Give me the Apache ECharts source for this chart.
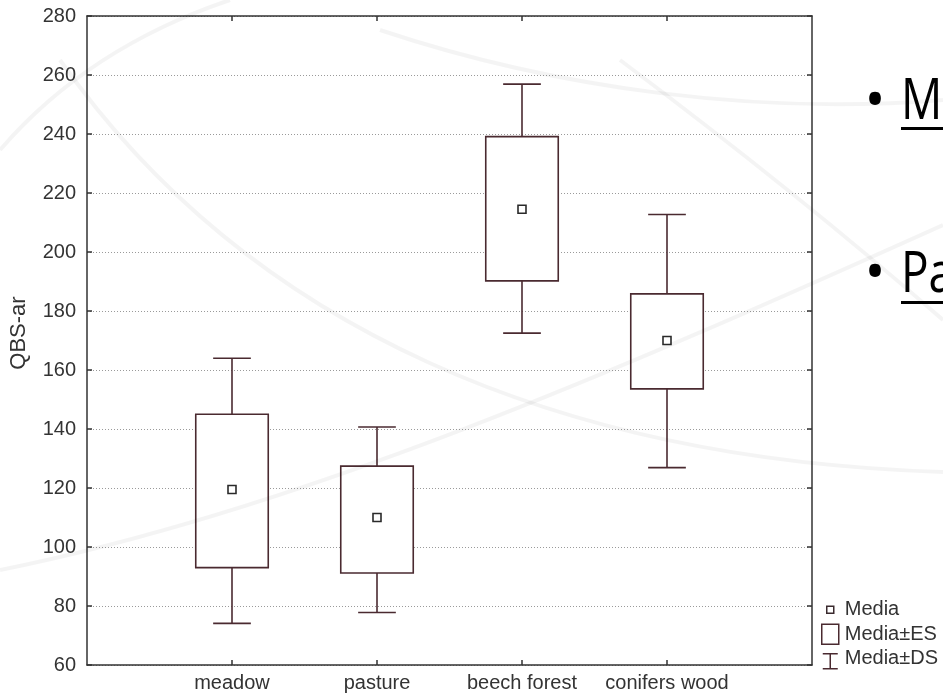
<!DOCTYPE html>
<html>
<head>
<meta charset="utf-8">
<script src="https://cdn.jsdelivr.net/npm/echarts@6/dist/echarts.min.js"></script>
<style>
html,body{margin:0;padding:0;background:#fff;}
#chart{width:943px;height:698px;}
</style>
</head>
<body>
<div id="chart"></div>
<script>
// ---- data ----
const categories = ['meadow', 'pasture', 'beech forest', 'conifers wood'];
const mediaValues = [119.5, 110, 214.5, 170];           // Media
const esLow  = [93, 91.2, 190.2, 153.6];               // Media - ES
const esHigh = [145, 127.4, 239.1, 185.8];             // Media + ES
const dsLow  = [74.1, 77.8, 172.5, 126.9];             // Media - DS
const dsHigh = [164, 140.7, 256.9, 212.7];             // Media + DS
const yTicks = [60, 80, 100, 120, 140, 160, 180, 200, 220, 240, 260, 280];
const yAxisName = 'QBS-ar';
const legendNames = ['Media', 'Media±ES', 'Media±DS'];
const sideTexts = ['M', 'Pa'];

const LINE = '#4a2a30';
const AXIS = '#333333';
const TXT = '#333333';
const FONT = '"Liberation Sans", Arial, sans-serif';

const xCats = [''].concat(categories, ['']);

const chart = echarts.init(document.getElementById('chart'), null, {renderer: 'canvas'});

function renderWhisker(params, api) {
  const x = api.value(0);
  const lo = api.coord([x, api.value(1)]);
  const hi = api.coord([x, api.value(2)]);
  const band = api.size([1, 0])[0];
  const half = band * 0.13;
  const style = {stroke: LINE, lineWidth: 1.6, fill: null};
  return {
    type: 'group',
    children: [
      {type: 'line', shape: {x1: lo[0], y1: lo[1], x2: hi[0], y2: hi[1]}, style: style},
      {type: 'line', shape: {x1: lo[0] - half, y1: lo[1], x2: lo[0] + half, y2: lo[1]}, style: style},
      {type: 'line', shape: {x1: hi[0] - half, y1: hi[1], x2: hi[0] + half, y2: hi[1]}, style: style}
    ]
  };
}

function renderBox(params, api) {
  const x = api.value(0);
  const lo = api.coord([x, api.value(1)]);
  const hi = api.coord([x, api.value(2)]);
  const band = api.size([1, 0])[0];
  const w = band * 0.5;
  return {
    type: 'rect',
    shape: {x: lo[0] - w / 2, y: hi[1], width: w, height: lo[1] - hi[1]},
    style: {fill: '#ffffff', stroke: LINE, lineWidth: 1.6}
  };
}

const curveStyle = {stroke: 'rgba(0,0,0,0.045)', lineWidth: 4, fill: null};

const option = {
  animation: false,
  backgroundColor: '#ffffff',
  grid: {left: 87, right: 131, top: 16, bottom: 33},
  xAxis: [
    {
      type: 'category', data: xCats, boundaryGap: false,
      axisLine: {lineStyle: {color: AXIS, width: 1.5}},
      axisTick: {inside: true, length: 5, lineStyle: {color: AXIS, width: 1.5},
                 interval: function (i) { return i > 0 && i < xCats.length - 1; }},
      axisLabel: {interval: 0, margin: 8, color: TXT, fontSize: 20, fontFamily: FONT},
      splitLine: {show: false}
    },
    {
      type: 'category', data: xCats, boundaryGap: false, position: 'top',
      axisLine: {lineStyle: {color: AXIS, width: 1.5}},
      axisTick: {inside: true, length: 5, lineStyle: {color: AXIS, width: 1.5},
                 interval: function (i) { return i > 0 && i < xCats.length - 1; }},
      axisLabel: {show: false},
      splitLine: {show: false}
    }
  ],
  yAxis: [
    {
      type: 'value', min: yTicks[0], max: yTicks[yTicks.length - 1], interval: yTicks[1] - yTicks[0],
      name: yAxisName, nameLocation: 'middle', nameGap: 57, nameRotate: 90,
      nameTextStyle: {color: TXT, fontSize: 22, fontFamily: FONT, padding: [0, 0, 0, 15]},
      axisLine: {show: true, lineStyle: {color: AXIS, width: 1.5}},
      axisTick: {show: true, inside: true, length: 5, lineStyle: {color: AXIS, width: 1.5}},
      axisLabel: {margin: 11, color: TXT, fontSize: 20, fontFamily: FONT},
      splitLine: {show: true, lineStyle: {color: '#9a9a9a', width: 1, type: [1, 2]}}
    },
    {
      type: 'value', min: yTicks[0], max: yTicks[yTicks.length - 1], interval: yTicks[1] - yTicks[0],
      position: 'right',
      axisLine: {show: true, lineStyle: {color: AXIS, width: 1.5}},
      axisTick: {show: true, inside: true, length: 5, lineStyle: {color: AXIS, width: 1.5}},
      axisLabel: {show: false},
      splitLine: {show: false}
    }
  ],
  legend: {
    orient: 'vertical', left: 815, top: 593,
    itemWidth: 19, itemHeight: 22, itemGap: 1,
    selectedMode: false,
    textStyle: {color: TXT, fontSize: 20, fontFamily: FONT, padding: [0, 0, 0, 0]},
    data: [
      {name: legendNames[0], icon: 'path://M0 0 M19 22 M6 7.5 L13 7.5 L13 14.5 L6 14.5 Z',
       itemStyle: {color: '#ffffff', borderColor: '#3a2a2e', borderWidth: 1.5}},
      {name: legendNames[1], icon: 'path://M0 0 M19 22 M1 1 L18 1 L18 21 L1 21 Z',
       itemStyle: {color: 'transparent', borderColor: LINE, borderWidth: 1.5}},
      {name: legendNames[2], icon: 'path://M0 0 M19 22 M2 6 L17 6 M9.5 6 L9.5 21 M2 21 L17 21',
       itemStyle: {color: 'transparent', borderColor: LINE, borderWidth: 1.5}}
    ]
  },
  graphic: [
    // faint slide background curves
    {type: 'bezierCurve', silent: true, z: 100, shape: {x1: 0, y1: 570, cpx1: 300, cpy1: 510, cpx2: 620, cpy2: 370, x2: 943, y2: 225}, style: curveStyle},
    {type: 'bezierCurve', silent: true, z: 100, shape: {x1: 60, y1: 60, cpx1: 250, cpy1: 330, cpx2: 560, cpy2: 460, x2: 943, y2: 472}, style: curveStyle},
    {type: 'bezierCurve', silent: true, z: 100, shape: {x1: 620, y1: 60, cpx1: 740, cpy1: 150, cpx2: 840, cpy2: 230, x2: 943, y2: 320}, style: curveStyle},
    {type: 'bezierCurve', silent: true, z: 100, shape: {x1: 380, y1: 30, cpx1: 560, cpy1: 90, cpx2: 760, cpy2: 115, x2: 943, y2: 100}, style: curveStyle},
    {type: 'bezierCurve', silent: true, z: 100, shape: {x1: 0, y1: 150, cpx1: 60, cpy1: 80, cpx2: 140, cpy2: 30, x2: 230, y2: 0}, style: curveStyle},
    // side bullet texts
    {type: 'text', z: 110, x: 875, y: 103, style: {text: '•', font: '56px "Open Sans"', fill: '#000', align: 'center', verticalAlign: 'middle'}},
    {type: 'text', z: 110, x: 901, y: 103, scaleX: 0.82, style: {text: sideTexts[0], font: '56px "Open Sans"', fill: '#000', align: 'left', verticalAlign: 'middle'}},
    {type: 'rect', z: 110, shape: {x: 901, y: 127, width: 42, height: 3}, style: {fill: '#000'}},
    {type: 'text', z: 110, x: 875, y: 275, style: {text: '•', font: '56px "Open Sans"', fill: '#000', align: 'center', verticalAlign: 'middle'}},
    {type: 'text', z: 110, x: 901, y: 276, scaleX: 0.82, style: {text: sideTexts[1], font: '56px "Open Sans"', fill: '#000', align: 'left', verticalAlign: 'middle'}},
    {type: 'rect', z: 110, shape: {x: 901, y: 301, width: 42, height: 3}, style: {fill: '#000'}}
  ],
  series: [
    {
      name: legendNames[2], type: 'custom', renderItem: renderWhisker,
      itemStyle: {color: LINE},
      encode: {x: 0, y: [1, 2]},
      data: categories.map(function (c, i) { return [c, dsLow[i], dsHigh[i]]; })
    },
    {
      name: legendNames[1], type: 'custom', renderItem: renderBox,
      itemStyle: {color: LINE},
      encode: {x: 0, y: [1, 2]},
      data: categories.map(function (c, i) { return [c, esLow[i], esHigh[i]]; })
    },
    {
      name: legendNames[0], type: 'scatter', symbol: 'rect', symbolSize: 8,
      itemStyle: {color: '#ffffff', borderColor: '#2a2a2a', borderWidth: 1.6, opacity: 1},
      z: 5,
      data: categories.map(function (c, i) { return [c, mediaValues[i]]; })
    }
  ]
};

chart.setOption(option);
</script>
</body>
</html>
